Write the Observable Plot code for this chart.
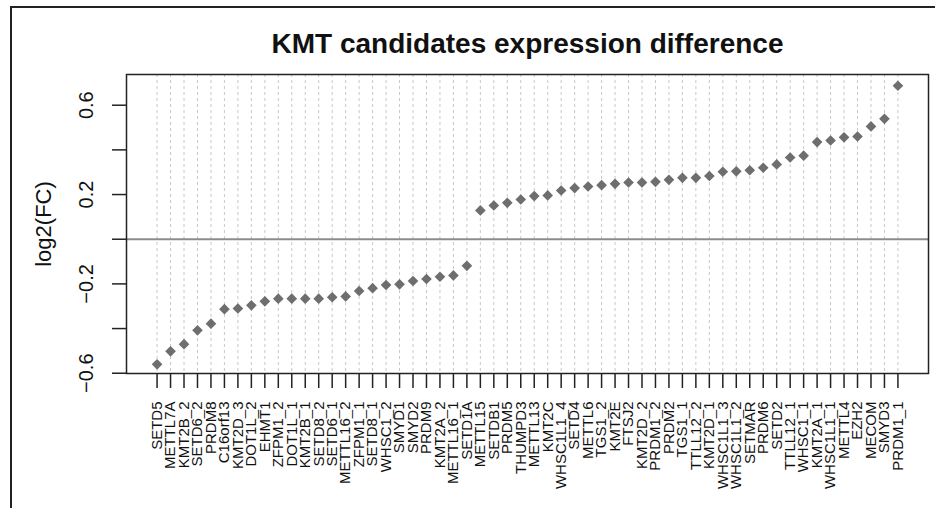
<!DOCTYPE html>
<html><head><meta charset="utf-8">
<script src="https://cdn.jsdelivr.net/npm/d3@7"></script>
<script src="https://cdn.jsdelivr.net/npm/@observablehq/plot@0.6"></script>
<style>
body{margin:0;background:#fff;}
#wrap{position:relative;width:935px;height:508px;overflow:hidden;background:#fff;}
#outer{position:absolute;left:10px;top:6px;width:1000px;height:700px;border:2px solid #222;box-sizing:border-box;}
#chart{position:absolute;left:0;top:0;}
</style></head><body>
<div id="wrap"><div id="outer"></div><div id="chart"></div></div>
<script>
const genes = ["SETD5","METTL7A","KMT2B_2","SETD6_2","PRDM8","C16orf13","KMT2D_3","DOT1L_2","EHMT1","ZFPM1_2",
  "DOT1L_1","KMT2B_1","SETD8_2","SETD6_1","METTL16_2","ZFPM1_1","SETD8_1","WHSC1_2","SMYD1","SMYD2",
  "PRDM9","KMT2A_2","METTL16_1","SETD1A","METTL15","SETDB1","PRDM5","THUMPD3","METTL13","KMT2C",
  "WHSC1L1_4","SETD4","METTL6","TGS1_2","KMT2E","FTSJ2","KMT2D_2","PRDM1_2","PRDM2","TGS1_1",
  "TTLL12_2","KMT2D_1","WHSC1L1_3","WHSC1L1_2","SETMAR","PRDM6","SETD2","TTLL12_1","WHSC1_1","KMT2A_1",
  "WHSC1L1_1","METTL4","EZH2","MECOM","SMYD3","PRDM1_1"];
const log2FC = [-0.560,-0.502,-0.470,-0.408,-0.378,-0.313,-0.310,-0.296,-0.278,-0.266,
  -0.266,-0.266,-0.266,-0.260,-0.256,-0.232,-0.219,-0.205,-0.202,-0.187,
  -0.178,-0.168,-0.162,-0.119,0.129,0.151,0.163,0.178,0.193,0.196,
  0.218,0.229,0.236,0.242,0.248,0.254,0.254,0.257,0.266,0.275,
  0.275,0.283,0.302,0.304,0.309,0.320,0.335,0.366,0.374,0.435,
  0.442,0.456,0.460,0.505,0.539,0.687];
const yTicks = [-0.6,-0.4,-0.2,0,0.2,0.4,0.6];
const yLabelValues = [-0.6,-0.2,0.2,0.6];
const yTickLabels = ["\u22120.6","\u22120.2","0.2","0.6"];
const title = "KMT candidates expression difference";
const yLabel = "log2(FC)";

const data = genes.map((g,i)=>({gene:g, value:log2FC[i]}));
const font = "'Liberation Sans', Arial, Helvetica, sans-serif";
const chart = Plot.plot({
  width:935, height:508, marginLeft:126, marginRight:7, marginTop:74, marginBottom:135,
  style:{fontFamily:font, background:"transparent", color:"#111"},
  x:{type:"point", domain:genes, padding:2.27, round:false, axis:null},
  y:{domain:[-0.6012,0.7375], axis:null},
  marks:[
    Plot.ruleX(genes, {x:d=>d, stroke:"#c8c8c8", strokeDasharray:"3,3", strokeWidth:1}),
    Plot.ruleY([0], {stroke:"#8c8c8c", strokeWidth:2}),
    Plot.dot(data, {x:"gene", y:"value", symbol:"diamond2", r:4.8, fill:"#6e6e6e", stroke:"none"}),
    Plot.frame({stroke:"#222", strokeWidth:1.5}),
    Plot.axisY({ticks:yTicks, tickSize:14, tickFormat:()=>"", label:null, stroke:"#222", strokeWidth:1.5}),
    Plot.text(yLabelValues, {y:d=>d, text:(d,i)=>yTickLabels[i], frameAnchor:"left", dx:-34, rotate:-90, textAnchor:"middle", lineAnchor:"bottom", fontSize:20, fill:"#111"}),
    Plot.axisX({ticks:genes, tickSize:15, tickFormat:()=>"", label:null, stroke:"#222", strokeWidth:1.5}),
    Plot.text(genes, {x:d=>d, text:d=>d, frameAnchor:"bottom", dy:28, rotate:-90, textAnchor:"end", lineAnchor:"middle", fontSize:15, fill:"#111"}),
    Plot.text([yLabel], {frameAnchor:"left", dx:-83, rotate:-90, textAnchor:"middle", lineAnchor:"middle", fontSize:22, fill:"#111"}),
    Plot.text([title], {frameAnchor:"top", dy:-22, textAnchor:"middle", lineAnchor:"bottom", fontSize:28, fontWeight:"bold", fill:"#111"})
  ]
});
document.getElementById("chart").appendChild(chart);
</script>
</body></html>
